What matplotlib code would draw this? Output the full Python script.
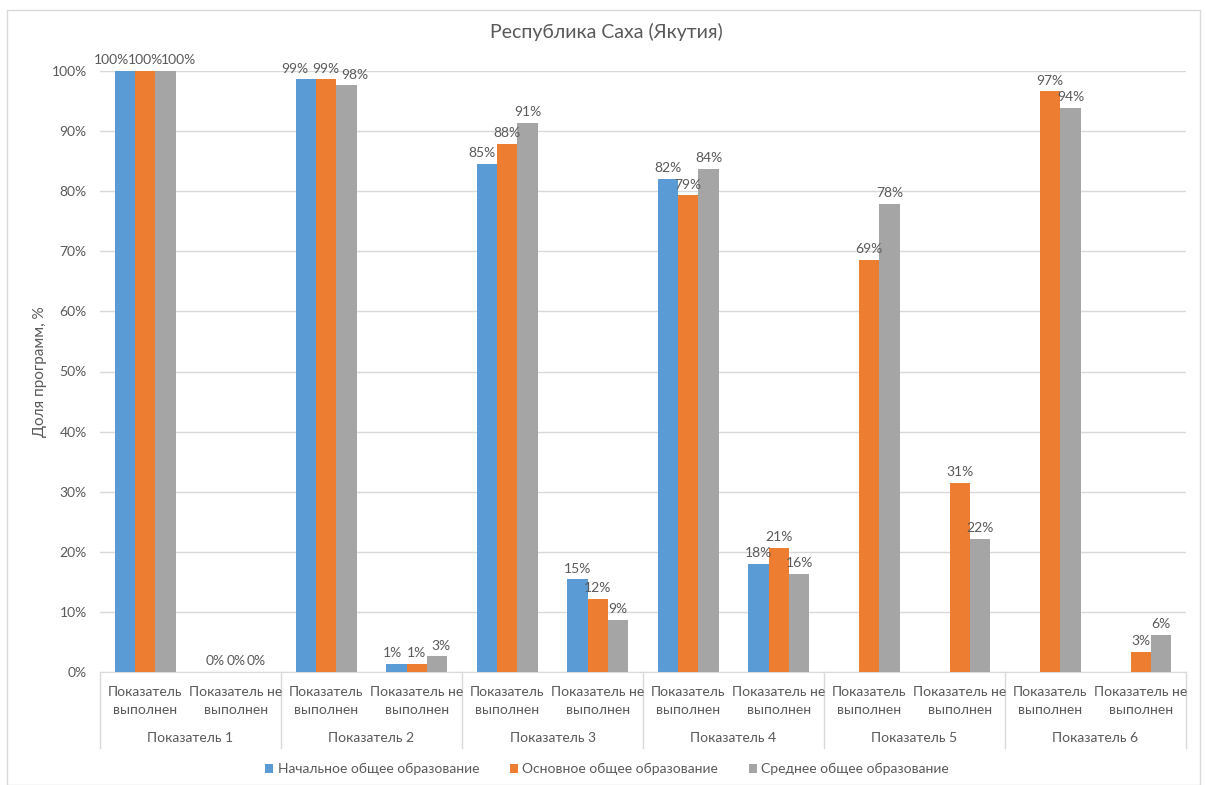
import numpy as np
import matplotlib
matplotlib.use("Agg")
import matplotlib.pyplot as plt
from matplotlib.transforms import blended_transform_factory
from matplotlib.patches import Rectangle, Patch

plt.rcParams['font.family'] = ['Lato', 'DejaVu Sans']

title = "Республика Саха (Якутия)"
ylabel = "Доля программ, %"
groups = ["Показатель 1", "Показатель 2", "Показатель 3", "Показатель 4", "Показатель 5", "Показатель 6"]
subcats = ["Показатель\nвыполнен", "Показатель не\nвыполнен"]
series_names = ["Начальное общее образование", "Основное общее образование", "Среднее общее образование"]
nan = np.nan
primary = [100, 0, 98.6, 1.4, 84.6, 15.4, 82.0, 18.0, nan, nan, nan, nan]
basic = [100, 0, 98.6, 1.4, 87.9, 12.1, 79.3, 20.7, 68.6, 31.4, 96.6, 3.4]
secondary = [100, 0, 97.6, 2.6, 91.4, 8.6, 83.7, 16.3, 77.9, 22.1, 93.8, 6.2]
colors = ["#5B9BD5", "#ED7D31", "#A5A5A5"]
text_color = "#595959"

# small horizontal nudges (pixels) for crowded data labels, per series and category
nudge = {(0, 0): -13, (2, 0): 13, (0, 2): -11, (2, 2): 8, (0, 3): -4, (2, 3): 4, (0, 4): -5}

W, H = 1206, 785
fig = plt.figure(figsize=(W / 100, H / 100), dpi=100)
fig.patches.append(Rectangle((7 / W, 0), (1200 - 7) / W, (785 - 10) / H, transform=fig.transFigure,
                             fill=False, edgecolor="#d9d9d9", linewidth=1))

ax_l, ax_r, ax_t, ax_b = 100, 1186, 71, 672
ax = fig.add_axes([ax_l / W, 1 - ax_b / H, (ax_r - ax_l) / W, (ax_b - ax_t) / H])

n = len(groups) * len(subcats)
x = np.arange(n)
bw = 0.225
data = [primary, basic, secondary]
for i, (vals, c) in enumerate(zip(data, colors)):
    v = np.array(vals, dtype=float)
    xs = x + (i - 1) * bw
    ax.bar(xs, v / 100, width=bw, color=c, zorder=3)
    for j, (xi, vi) in enumerate(zip(xs, v)):
        if np.isnan(vi):
            continue
        dx = nudge.get((i, j), 0) * 0.72
        ax.annotate(f"{vi:.0f}%", (xi, vi / 100), xytext=(dx, 3.5), textcoords="offset points",
                    ha="center", va="bottom", fontsize=10, color=text_color, zorder=4)

ax.set_xlim(-0.5, n - 0.5)
ax.set_ylim(0, 1)
ticks = np.arange(0, 1.01, 0.1)
ax.set_yticks(ticks)
ax.set_yticklabels([f"{int(round(t * 100))}%" for t in ticks])
ax.tick_params(axis="y", length=0, labelsize=10, labelcolor=text_color, pad=9.5)
ax.set_xticks([])
ax.grid(axis="y", color="#d9d9d9", linewidth=1, zorder=0)
for s in ["top", "right", "left"]:
    ax.spines[s].set_visible(False)
ax.spines["bottom"].set_color("#d9d9d9")
ax.set_ylabel(ylabel, fontsize=11, color=text_color)
ax.yaxis.set_label_coords(-0.049, 0.5)

ph = ax_b - ax_t
tr = blended_transform_factory(ax.transData, ax.transAxes)
for j in range(n):
    ax.text(x[j], (ax_b - 701) / ph, subcats[j % 2], transform=tr, ha="center", va="center",
            fontsize=10, color=text_color, linespacing=1.5)
for g, name in enumerate(groups):
    ax.text(2 * g + 0.5, (ax_b - 738) / ph, name, transform=tr, ha="center", va="center",
            fontsize=10, color=text_color)
for k in range(len(groups) + 1):
    xl = 2 * k - 0.5
    ax.plot([xl, xl], [0, (ax_b - 748) / ph], transform=tr, color="#d9d9d9", linewidth=1, clip_on=False)

fig.text(606 / W, 1 - 32 / H, title, ha="center", va="center", fontsize=14, color=text_color)

handles = [Patch(facecolor=c, edgecolor="none") for c in colors]
fig.legend(handles, series_names, loc="center", bbox_to_anchor=(607 / W, 1 - 769 / H), ncol=3,
           frameon=False, fontsize=10, labelcolor=text_color, handlelength=0.6, handleheight=0.6,
           handletextpad=0.3, columnspacing=2.2)

fig.savefig("out.png", dpi=100)
